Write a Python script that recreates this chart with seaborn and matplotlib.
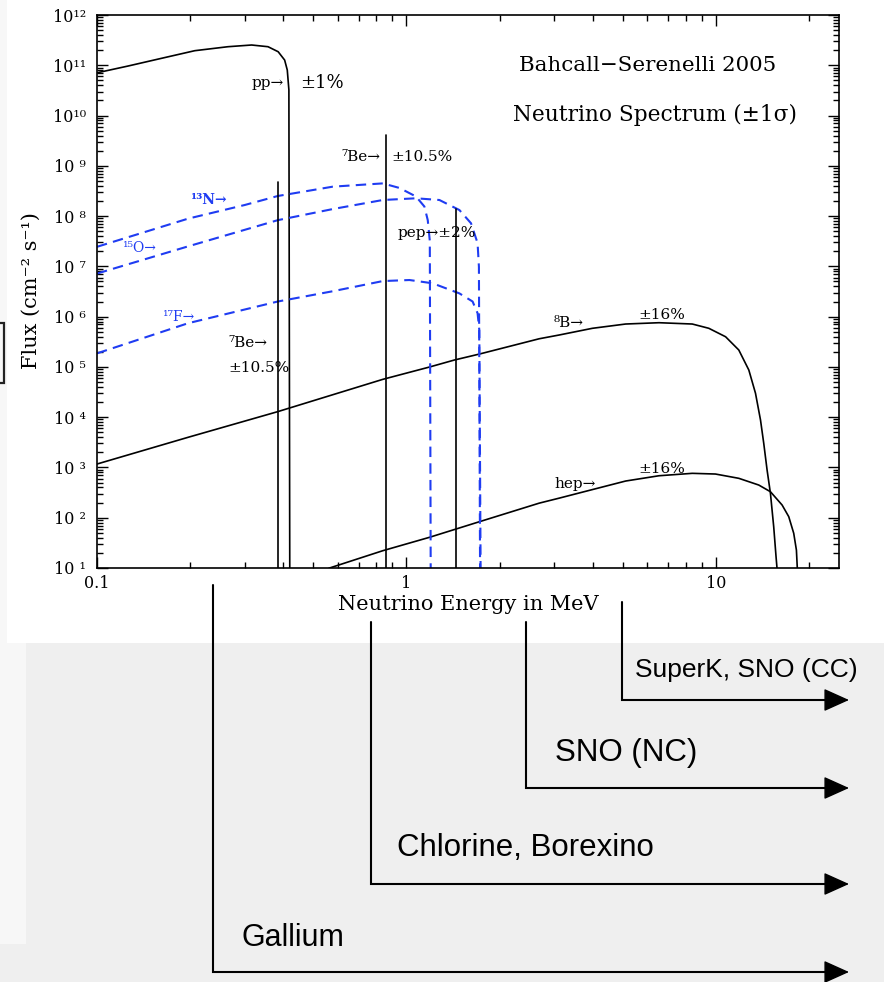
import numpy as np
import seaborn as sns
import matplotlib.pyplot as plt
from matplotlib.ticker import LogLocator, FuncFormatter, NullFormatter, FixedLocator, FixedFormatter
from matplotlib.patches import Rectangle

# Solar neutrino spectra (E in MeV, flux in cm^-2 s^-1 MeV^-1)
pp_E = [0.100, 0.126, 0.162, 0.207, 0.265, 0.316, 0.357, 0.385, 0.404, 0.412, 0.417, 0.420]
pp_F = [7.08e10, 9.66e10, 1.38e11, 1.95e11, 2.34e11, 2.53e11, 2.34e11, 1.86e11, 1.27e11, 8.05e10, 3.24e10, 1.0]

n13_E = [0.100, 0.197, 0.300, 0.384, 0.578, 0.839, 0.949, 1.074, 1.143, 1.172, 1.190, 1.199]
n13_F = [2.45e7, 8.9e7, 1.66e8, 2.51e8, 3.85e8, 4.47e8, 3.63e8, 2.45e8, 1.55e8, 8.3e7, 3.2e7, 1.0]

o15_E = [0.100, 0.197, 0.384, 0.578, 0.839, 1.074, 1.278, 1.483, 1.617, 1.698, 1.715, 1.732]
o15_F = [7.2e6, 2.5e7, 8.3e7, 1.38e8, 2.09e8, 2.26e8, 2.09e8, 1.32e8, 7.2e7, 2.9e7, 9.8e6, 1.0]

f17_E = [0.100, 0.197, 0.384, 0.578, 0.839, 1.023, 1.216, 1.483, 1.636, 1.698, 1.720, 1.740]
f17_F = [1.86e5, 7.4e5, 2.0e6, 3.2e6, 5.1e6, 5.35e6, 4.6e6, 2.9e6, 2.0e6, 1.17e6, 5.4e5, 1.0]

b8_E = [0.100, 0.197, 0.384, 0.839, 1.186, 1.428, 1.72, 2.686, 3.115, 3.99, 5.11, 6.55, 8.39, 9.49,
        10.75, 11.86, 12.78, 13.43, 13.94, 14.28, 14.64, 15.01, 15.38, 15.65, 15.76, 15.9]
b8_F = [1.17e3, 3.98e3, 1.29e4, 5.66e4, 9.93e4, 1.37e5, 1.80e5, 3.63e5, 4.31e5, 5.86e5, 7.13e5, 7.57e5,
        7.13e5, 5.86e5, 3.98e5, 2.17e5, 8.67e4, 2.99e4, 8.79e3, 3.02e3, 889, 305, 66, 16.7, 10, 1.0]

hep_E = [0.40, 0.5644, 0.839, 1.186, 1.72, 2.686, 3.115, 3.99, 5.11, 6.55, 8.39, 9.97, 11.86,
         13.76, 15.01, 16.37, 17.2, 17.85, 18.21, 18.33, 18.45]
hep_F = [3.16, 10, 22.1, 40.7, 83.2, 195, 245, 363, 537, 684, 764, 740, 608,
         447, 329, 179, 105, 49, 22.7, 10, 1.0]

# line sources (E in MeV, flux in cm^-2 s^-1)
line_E = [0.384, 0.862, 1.442]
line_F = [4.8e8, 4.1e9, 1.4e8]

# experiment thresholds marked below the axis (MeV)
detectors = ['Gallium', 'Chlorine, Borexino', 'SNO (NC)', 'SuperK, SNO (CC)']
thresholds = [0.237, 0.77, 2.44, 4.97]

BLUE = '#1f3cf2'
SERIF = ['DejaVu Serif', 'DejaVu Sans']
SANS = ['Liberation Sans', 'DejaVu Sans']

sns.set_theme(style="ticks")
plt.rcParams['font.family'] = SERIF
plt.rcParams['axes.linewidth'] = 1.2

fig = plt.figure(figsize=(8.84, 9.82), dpi=100)
fig.patch.set_facecolor('white')

# page background behind the chart
bg = fig.add_axes([0, 0, 1, 1], zorder=-5)
bg.set_xlim(0, 884)
bg.set_ylim(982, 0)
bg.axis('off')
bg.add_patch(Rectangle((0, 0), 7, 643, color='#f7f7f7', lw=0))
bg.add_patch(Rectangle((0, 643), 26, 301, color='#f7f7f7', lw=0))
bg.add_patch(Rectangle((26, 643), 858, 339, color='#efefef', lw=0))
bg.add_patch(Rectangle((0, 944), 26, 38, color='#efefef', lw=0))
bg.add_patch(Rectangle((-10, 323), 14, 60, fill=False, ec='#222222', lw=1.6))

ax = fig.add_axes([97 / 884, 1 - 568 / 982, 742 / 884, 553 / 982])
ax.set_facecolor('white')

solid = dict(color='black', lw=1.2, sort=False, estimator=None)
dashed = dict(color=BLUE, lw=1.5, sort=False, estimator=None, linestyle=(0, (5, 3)))

sns.lineplot(x=pp_E, y=pp_F, ax=ax, **solid)
sns.lineplot(x=b8_E, y=b8_F, ax=ax, **solid)
sns.lineplot(x=hep_E, y=hep_F, ax=ax, **solid)
sns.lineplot(x=n13_E, y=n13_F, ax=ax, **dashed)
sns.lineplot(x=o15_E, y=o15_F, ax=ax, **dashed)
sns.lineplot(x=f17_E, y=f17_F, ax=ax, **dashed)
for e, f in zip(line_E, line_F):
    sns.lineplot(x=[e, e], y=[1.0, f], ax=ax, **solid)

ax.set_xscale('log')
ax.set_yscale('log')
ax.set_xlim(0.1, 25)
ax.set_ylim(10, 1e12)

sup = str.maketrans('0123456789', '⁰¹²³⁴⁵⁶⁷⁸⁹')


def pow_label(v, pos):
    e = int(round(np.log10(v)))
    s = str(e).translate(sup)
    return '10' + (s if e >= 10 else ' ' + s)


ax.xaxis.set_major_locator(FixedLocator([0.1, 1, 10]))
ax.xaxis.set_major_formatter(FixedFormatter(['0.1', '1', '10']))
ax.xaxis.set_minor_locator(LogLocator(subs=np.arange(2, 10), numticks=20))
ax.xaxis.set_minor_formatter(NullFormatter())
ax.yaxis.set_major_locator(LogLocator(numticks=20))
ax.yaxis.set_major_formatter(FuncFormatter(pow_label))
ax.yaxis.set_minor_locator(LogLocator(subs=np.arange(2, 10), numticks=20))
ax.yaxis.set_minor_formatter(NullFormatter())
ax.tick_params(which='both', direction='in', top=True, right=True, color='black', width=1.0)
ax.tick_params(which='major', length=8, labelsize=11.5, labelcolor='black')
ax.tick_params(which='minor', length=4)
ax.tick_params(axis='y', pad=8)
ax.tick_params(axis='x', pad=5)
for s in ax.spines.values():
    s.set_color('black')

ax.set_xlabel('Neutrino Energy in MeV', fontsize=15, color='black')
ax.xaxis.set_label_coords(0.5, -0.048)
fig.text(31 / 884, 1 - 291 / 982, 'Flux (cm⁻² s⁻¹)', rotation=90, ha='center', va='center',
         fontsize=15, color='black')

ax.text(0.742, 0.908, 'Bahcall−Serenelli 2005', transform=ax.transAxes, ha='center', va='center',
        fontsize=15.4, color='black')
ax.text(0.752, 0.819, 'Neutrino Spectrum (±1σ)', transform=ax.transAxes, ha='center', va='center',
        fontsize=15.6, color='black')

black_lbl = dict(ha='left', va='center', color='black', fontsize=11)
ax.text(0.316, 4.4e10, 'pp→', **black_lbl)
ax.text(0.452, 4.4e10, '±1%', **dict(black_lbl, fontsize=13))
ax.text(0.617, 1.5e9, '⁷Be→', **black_lbl)
ax.text(0.894, 1.5e9, '±10.5%', **black_lbl)
ax.text(0.265, 3.0e5, '⁷Be→', **black_lbl)
ax.text(0.265, 9.5e4, '±10.5%', **black_lbl)
ax.text(0.935, 4.6e7, 'pep→±2%', **black_lbl)
ax.text(3.0, 7.5e5, '⁸B→', **black_lbl)
ax.text(5.6, 1.08e6, '±16%', **black_lbl)
ax.text(3.0, 468, 'hep→', **black_lbl)
ax.text(5.6, 931, '±16%', **black_lbl)

blue_lbl = dict(ha='left', va='center', color=BLUE, fontsize=10)
ax.text(0.201, 2.09e8, '¹³N→', fontweight='bold', **blue_lbl)
ax.text(0.1213, 2.3e7, '¹⁵O→', **blue_lbl)
ax.text(0.163, 9.8e5, '¹⁷F→', **blue_lbl)

# threshold arrows in page pixel coordinates
ov = fig.add_axes([0, 0, 1, 1], zorder=3)
ov.set_xlim(0, 884)
ov.set_ylim(982, 0)
ov.axis('off')
ov.patch.set_alpha(0)

tops = [585, 622, 622, 602]
bottoms = [972, 884, 788, 700]
text_y = [938, 848, 753, 670]
text_dx = [29, 26, 29, 13]
text_size = [22, 22.5, 22.5, 19]
for name, e, t, b, ty, dx, fs in zip(detectors, thresholds, tops, bottoms, text_y, text_dx, text_size):
    xp = ax.transData.transform((e, 1e5))[0]
    ov.plot([xp, xp, 830], [t, b, b], color='black', lw=1.5, solid_joinstyle='miter')
    ov.annotate('', xy=(849, b), xytext=(826, b),
                arrowprops=dict(arrowstyle='-|>,head_length=0.8,head_width=0.36', color='black',
                                lw=1.0, mutation_scale=20, shrinkA=0, shrinkB=0))
    ov.text(xp + dx, ty, name, ha='left', va='center', fontsize=fs, family=SANS, color='black')

fig.savefig('out.png', dpi=100)
